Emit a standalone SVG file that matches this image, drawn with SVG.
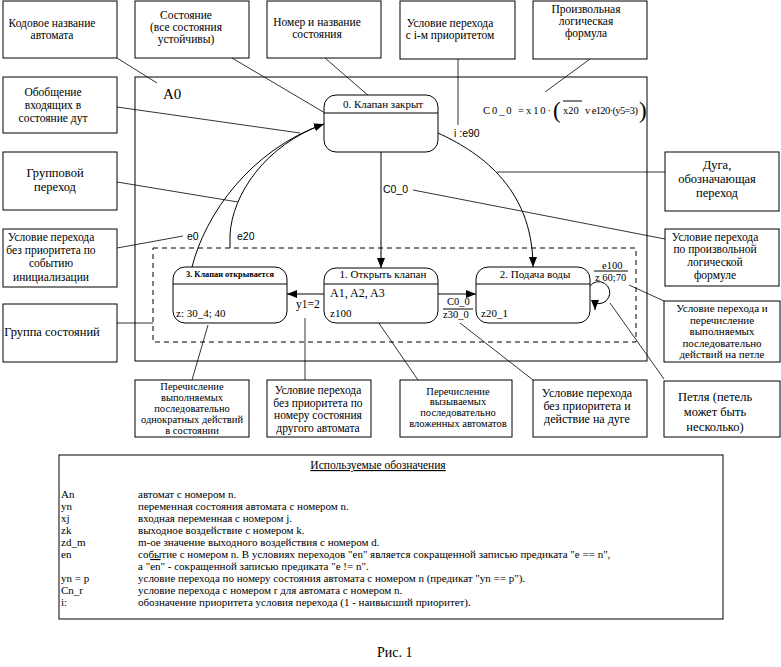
<svg xmlns="http://www.w3.org/2000/svg" width="781" height="667" viewBox="0 0 781 667">
<style>
text{font-family:"Liberation Serif","Times New Roman",serif;fill:#000}
.c{text-anchor:middle}
.s115{font-size:11.5px}
.s12{font-size:12px}
.s125{font-size:12.5px}
.s11{font-size:11px}
.s105{font-size:10.5px}
.sans{font-family:"Liberation Sans",Arial,sans-serif;font-size:10.5px}
.box{fill:#fff;stroke:#000;stroke-width:1}
.st{fill:#fff;stroke:#000;stroke-width:1}
.ln{fill:none;stroke:#000;stroke-width:1}
.cl{fill:none;stroke:#000;stroke-width:0.8}
.ar{fill:none;stroke:#000;stroke-width:1;marker-end:url(#ah)}
</style>
<defs>
<marker id="ah" markerUnits="userSpaceOnUse" markerWidth="10" markerHeight="8" refX="10" refY="4" orient="auto">
<path d="M0,0 L10,4 L0,8 z" fill="#000"/>
</marker>
</defs>
<rect width="781" height="667" fill="#fff"/>

<g id="automaton-A0">
<rect class="box" x="135" y="77" width="512" height="284"/>
<text x="163" y="99" style="font-size:15px">A0</text>
</g>
<g id="group">
<rect x="153" y="248" width="483" height="94" fill="none" stroke="#000" stroke-width="1" stroke-dasharray="5,4"/>
</g>

<g id="connectors">
<line class="cl" x1="117" y1="58" x2="157" y2="83"/>
<line class="cl" x1="232" y1="58" x2="325" y2="113"/>
<line class="cl" x1="325" y1="58" x2="370" y2="97"/>
<line class="cl" x1="458" y1="59" x2="458" y2="125"/>
<line class="cl" x1="590" y1="59" x2="545" y2="92"/>
<line class="cl" x1="117" y1="107" x2="300" y2="133"/>
<line class="cl" x1="117" y1="182" x2="238" y2="202"/>
<line class="cl" x1="117" y1="248" x2="183" y2="236"/>
<line class="cl" x1="117" y1="323" x2="153" y2="323"/>
<line class="cl" x1="497" y1="172" x2="665" y2="172"/>
<line class="cl" x1="413" y1="190" x2="665" y2="239"/>
<line class="cl" x1="629" y1="285" x2="664" y2="301"/>
<line class="cl" x1="610" y1="303" x2="664" y2="379"/>
<line class="cl" x1="208" y1="325" x2="192" y2="380"/>
<line class="cl" x1="305" y1="318" x2="305" y2="380"/>
<line class="cl" x1="363" y1="300" x2="418" y2="380"/>
<line class="cl" x1="460" y1="323" x2="533" y2="380"/>
<line class="ar" x1="381" y1="152" x2="381" y2="268"/>
<path class="ar" d="M438,133 C475,150 533,185 533,267"/>
<path class="ln" d="M192,267 C205,215 250,150 324,124"/>
<path class="ar" d="M230,248 L230,235 C232,195 265,145 324,124"/>
<line class="ar" x1="324" y1="294" x2="287" y2="294"/>
<line class="ar" x1="438" y1="294" x2="476" y2="294"/>
<path class="ar" d="M590,286 A11,11 0 1 1 595,303 L595,310"/>
<text class="sans" x="383" y="193">C0_0</text>
<text class="sans" x="454" y="137">i :e90</text>
<text class="sans" x="187" y="240">e0</text>
<text class="sans" x="237" y="240">e20</text>
<text class="s115" x="296" y="308">y1=2</text>
<text class="s105" x="447" y="305">C0_0</text>
<line class="ln" x1="443" y1="309" x2="473" y2="309"/>
<text class="s105" x="443" y="318">z30_0</text>
<text class="s105" x="602" y="269">e100</text>
<line class="ln" x1="594" y1="271" x2="628" y2="271"/>
<text class="s105" x="595" y="281">z 60;70</text>
<text class="s105" x="483" y="114" textLength="68" lengthAdjust="spacing">C0_0 =x10·</text>
<text x="553" y="118" style="font-size:23px">(</text>
<text class="s105" x="563" y="114">x20</text>
<line class="ln" x1="563" y1="101" x2="582" y2="101"/>
<text class="s105" x="585" y="114" textLength="53" lengthAdjust="spacing">v e120·(y5=3)</text>
<text x="639" y="118" style="font-size:23px">)</text>
</g>

<g id="state0">
<rect class="st" x="324" y="95" width="114" height="57" rx="12"/>
<line class="ln" x1="324" y1="113" x2="438" y2="113"/>
<text class="c s11" x="383" y="108">0. Клапан закрыт</text>
</g>
<g id="state1">
<rect class="st" x="324" y="268" width="114" height="55" rx="12"/>
<line class="ln" x1="324" y1="284" x2="438" y2="284"/>
<text class="c s11" x="383" y="278">1. Открыть клапан</text>
<text class="s12" x="330" y="297">A1, A2, A3</text>
<text class="s11" x="330" y="317">z100</text>
</g>
<g id="state2">
<rect class="st" x="476" y="267" width="114" height="56" rx="12"/>
<line class="ln" x1="476" y1="284" x2="590" y2="284"/>
<text class="c s11" x="535" y="278">2. Подача воды</text>
<text class="s11" x="481" y="317">z20_1</text>
</g>
<g id="state3">
<rect class="st" x="173" y="267" width="114" height="56" rx="12"/>
<line class="ln" x1="173" y1="284" x2="287" y2="284"/>
<text x="186" y="277" style="font-size:8px;font-weight:bold" textLength="88" lengthAdjust="spacingAndGlyphs">3. Клапан открывается</text>
<text class="s11" x="176" y="317">z: 30_4; 40</text>
</g>

<g id="note-code-name">
<rect class="box" x="3" y="1" width="114" height="57"/>
<text class="c s115" x="52" y="27">Кодовое название</text>
<text class="c s115" x="52" y="39">автомата</text>
</g>
<g id="note-state">
<rect class="box" x="135" y="1" width="114" height="57"/>
<text class="c s115" x="186" y="19">Состояние</text>
<text class="c s115" x="186" y="31">(все состояния</text>
<text class="c s115" x="186" y="43">устойчивы)</text>
</g>
<g id="note-number">
<rect class="box" x="267" y="1" width="114" height="57"/>
<text class="c s115" x="317" y="26">Номер и название</text>
<text class="c s115" x="317" y="38">состояния</text>
</g>
<g id="note-priority">
<rect class="box" x="400" y="1" width="115" height="58"/>
<text class="c s115" x="450" y="27">Условие перехода</text>
<text class="c s115" x="450" y="39">с i-м  приоритетом</text>
</g>
<g id="note-formula">
<rect class="box" x="533" y="1" width="114" height="58"/>
<text class="c s115" x="586" y="13">Произвольная</text>
<text class="c s115" x="586" y="25">логическая</text>
<text class="c s115" x="586" y="37">формула</text>
</g>
<g id="note-generalization">
<rect class="box" x="3" y="77" width="114" height="56"/>
<text class="c s115" x="53" y="96">Обобщение</text>
<text class="c s115" x="53" y="109">входящих в</text>
<text class="c s115" x="53" y="122">состояние дут</text>
</g>
<g id="note-group-transition">
<rect class="box" x="3" y="152" width="114" height="58"/>
<text class="c s125" x="55" y="177">Групповой</text>
<text class="c s125" x="55" y="191">переход</text>
</g>
<g id="note-init">
<rect class="box" x="3" y="229" width="114" height="58"/>
<text class="c s115" x="51" y="241">Условие перехода</text>
<text class="c s115" x="51" y="254">без приоритета по</text>
<text class="c s115" x="51" y="267">событию</text>
<text class="c s115" x="51" y="281">инициализации</text>
</g>
<g id="note-group">
<rect class="box" x="3" y="304" width="114" height="58"/>
<text class="c s125" x="52" y="336">Группа состояний</text>
</g>
<g id="note-arc">
<rect class="box" x="665" y="152" width="114" height="59"/>
<text class="c s125" x="717" y="169">Дуга,</text>
<text class="c s125" x="717" y="183">обозначающая</text>
<text class="c s125" x="717" y="197">переход</text>
</g>
<g id="note-arbitrary">
<rect class="box" x="665" y="229" width="114" height="57"/>
<text class="c s115" x="715" y="241">Условие перехода</text>
<text class="c s115" x="715" y="253">по произвольной</text>
<text class="c s115" x="715" y="266">логической</text>
<text class="c s115" x="715" y="279">формуле</text>
</g>
<g id="note-loop-condition">
<rect class="box" x="664" y="301" width="116" height="61"/>
<text class="c s11" x="722" y="312">Условие перехода и</text>
<text class="c s11" x="722" y="324">перечисление</text>
<text class="c s11" x="722" y="335">выполняемых</text>
<text class="c s11" x="722" y="347">последовательно</text>
<text class="c s11" x="722" y="358">действий на петле</text>
</g>
<g id="note-loop">
<rect class="box" x="664" y="381" width="116" height="56"/>
<text class="c s125" x="715" y="401">Петля (петель</text>
<text class="c s125" x="715" y="416">может быть</text>
<text class="c s125" x="715" y="431">несколько)</text>
</g>
<g id="note-actions">
<rect class="box" x="135" y="380" width="114" height="57"/>
<text class="c s105" x="192" y="390">Перечисление</text>
<text class="c s105" x="192" y="401">выполняемых</text>
<text class="c s105" x="192" y="412">последовательно</text>
<text class="c s105" x="192" y="423">однократных действий</text>
<text class="c s105" x="192" y="434">в состоянии</text>
</g>
<g id="note-state-number">
<rect class="box" x="267" y="380" width="104" height="57"/>
<text class="c s115" x="318" y="394">Условие перехода</text>
<text class="c s115" x="318" y="406.5">без приоритета по</text>
<text class="c s115" x="318" y="419">номеру состояния</text>
<text class="c s115" x="318" y="431.5">другого автомата</text>
</g>
<g id="note-nested">
<rect class="box" x="400" y="380" width="112" height="57"/>
<text class="c s105" x="458" y="395">Перечисление</text>
<text class="c s105" x="458" y="405">вызываемых</text>
<text class="c s105" x="458" y="416">последовательно</text>
<text class="c s105" x="458" y="427">вложенных автоматов</text>
</g>
<g id="note-arc-action">
<rect class="box" x="533" y="380" width="114" height="57"/>
<text class="c s12" x="587" y="397">Условие перехода</text>
<text class="c s12" x="587" y="410">без приоритета и</text>
<text class="c s12" x="587" y="423">действие на дуге</text>
</g>

<g id="legend">
<rect class="box" x="59" y="455" width="664" height="164"/>
<text class="c s115" x="378" y="469" text-decoration="underline">Используемые обозначения</text>
<g class="s11">
<text x="61" y="498">An</text><text x="138" y="498">автомат с номером n.</text>
<text x="61" y="510">yn</text><text x="138" y="510">переменная состояния автомата с номером n.</text>
<text x="61" y="522">xj</text><text x="138" y="522">входная переменная с номером j.</text>
<text x="61" y="534">zk</text><text x="138" y="534">выходное воздействие с номером k.</text>
<text x="61" y="546">zd_m</text><text x="138" y="546">m-ое значение выходного воздействия с номером d.</text>
<text x="61" y="558">en</text><text x="138" y="558">событие с номером n. В условиях переходов "en" является сокращенной записью предиката "e == n",</text>
<text x="138" y="570">а "<tspan text-decoration="overline">en</tspan>" - сокращенной записью предиката "e != n".</text>
<text x="61" y="582">yn = p</text><text x="138" y="582">условие перехода по номеру состояния автомата с номером n (предикат "yn == p").</text>
<text x="61" y="594">Cn_r</text><text x="138" y="594">условие перехода с номером r для автомата с номером n.</text>
<text x="61" y="606">i:</text><text x="138" y="606">обозначение приоритета условия перехода (1 - наивысший приоритет).</text>
</g>
</g>
<text x="377" y="657" style="font-size:14px">Рис. 1</text>
</svg>
